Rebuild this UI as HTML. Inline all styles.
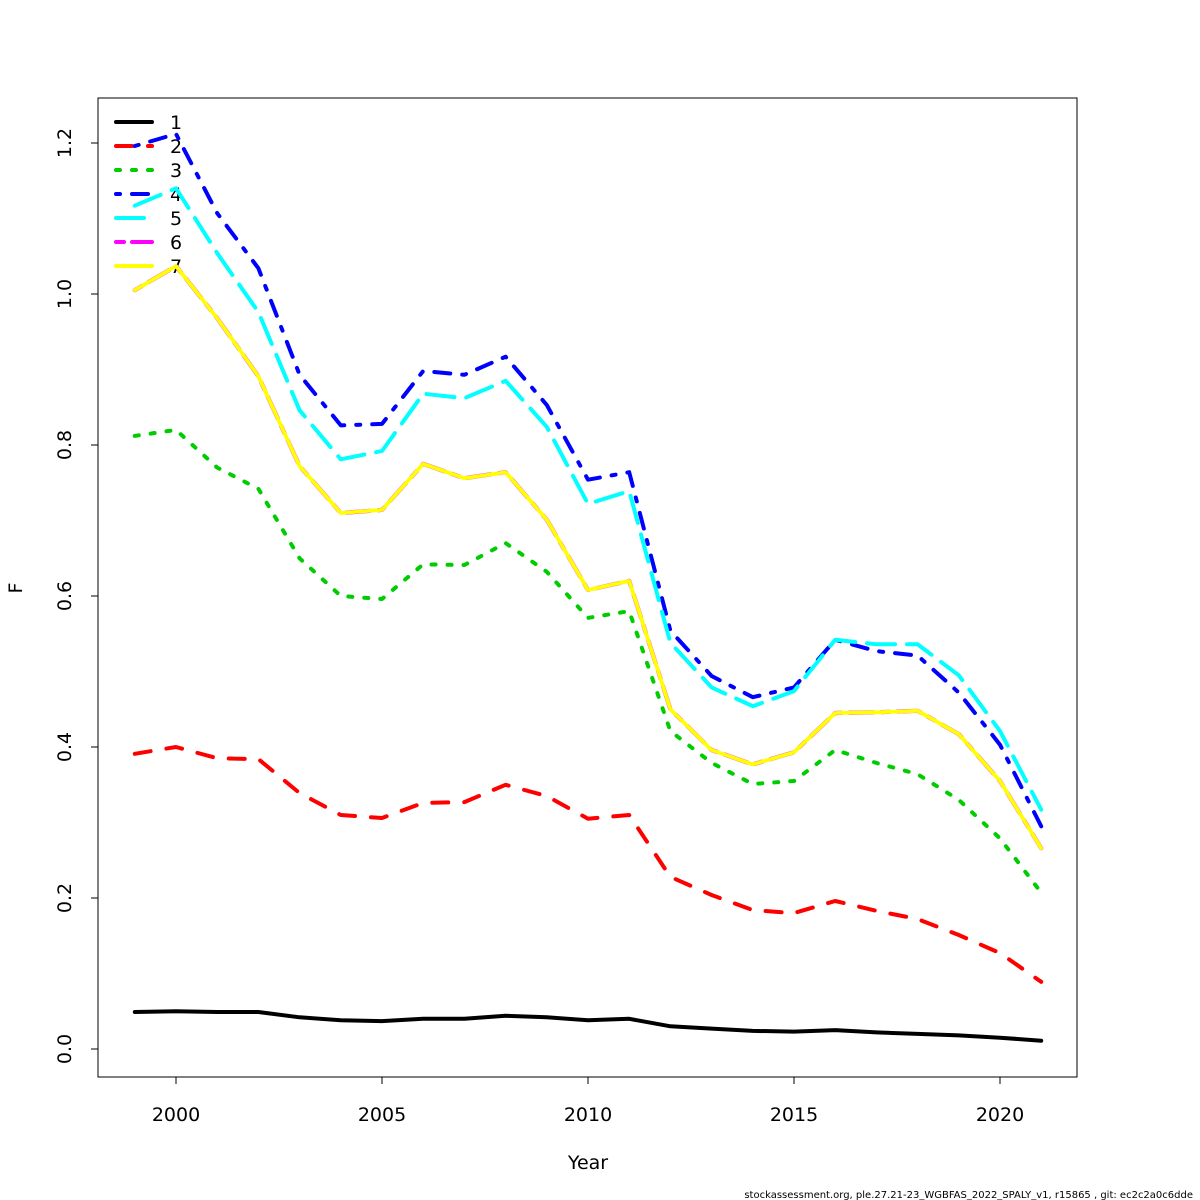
<!DOCTYPE html>
<html><head><meta charset="utf-8"><style>
html,body{margin:0;padding:0;background:#fff;}
svg{display:block;font-family:"DejaVu Sans","Liberation Sans",sans-serif;}
</style></head><body>
<svg id="chart" width="1200" height="1200" viewBox="0 0 1200 1200">
<rect x="98" y="98" width="979" height="979" fill="none" stroke="#000" stroke-width="1"/>
<g id="xaxis"></g>
<g id="yaxis"></g>
<text x="588" y="1169" font-size="19" text-anchor="middle">Year</text>
<text transform="translate(22,588) rotate(-90)" font-size="19" text-anchor="middle">F</text>
<text x="1193" y="1198" font-size="10" text-anchor="end">stockassessment.org, ple.27.21-23_WGBFAS_2022_SPALY_v1, r15865 , git: ec2c2a0c6dde</text>
<g id="legend"></g>
<g id="series"></g>
</svg>
<script>
const years=[1999,2000,2001,2002,2003,2004,2005,2006,2007,2008,2009,2010,2011,2012,2013,2014,2015,2016,2017,2018,2019,2020,2021];
const age1=[.049,.050,.049,.049,.042,.038,.037,.040,.040,.044,.042,.038,.040,.030,.027,.024,.023,.025,.022,.020,.018,.015,.011];
const age2=[.391,.400,.385,.384,.339,.310,.306,.326,.327,.350,.335,.305,.310,.228,.204,.184,.180,.196,.183,.172,.151,.127,.089];
const age3=[.812,.820,.770,.742,.650,.600,.596,.642,.641,.670,.632,.571,.580,.421,.379,.351,.355,.396,.379,.364,.330,.279,.207];
const age4=[1.196,1.212,1.107,1.034,.893,.826,.828,.898,.893,.917,.853,.754,.764,.554,.494,.466,.479,.542,.527,.521,.472,.403,.295];
const age5=[1.117,1.140,1.054,.976,.846,.781,.792,.868,.862,.885,.824,.722,.739,.538,.479,.454,.474,.542,.536,.536,.495,.421,.317];
const age6=[1.005,1.037,.968,.891,.772,.710,.714,.775,.756,.764,.701,.608,.620,.450,.396,.377,.393,.445,.446,.448,.417,.355,.266];
const age7=[1.005,1.037,.968,.891,.772,.710,.714,.775,.756,.764,.701,.608,.620,.450,.396,.377,.393,.445,.446,.448,.417,.355,.266];
const seriesLabels=["1","2","3","4","5","6","7"];
const xTicks=[2000,2005,2010,2015,2020];
const yTicks=[0,0.2,0.4,0.6,0.8,1.0,1.2];
const yTickLabels=["0.0","0.2","0.4","0.6","0.8","1.0","1.2"];

const NS="http://www.w3.org/2000/svg";
const X=y=>176+(y-2000)*41.2;
const Y=v=>1049-v*755;
const colors=["#000","#ff0000","#00cd00","#0000ff","#00ffff","#ff00ff","#ffff00"];
const dashes=["","16,16","4,12","4,12,16,12","28,12","8,8,24,8",""];
const widths=[4,4,4,4,4,4.2,3.8];
const all=[age1,age2,age3,age4,age5,age6,age7];
function mk(t,a,p){const e=document.createElementNS(NS,t);for(const k in a)e.setAttribute(k,a[k]);p.appendChild(e);return e;}
const xa=document.getElementById('xaxis'),ya=document.getElementById('yaxis');
mk('line',{x1:X(xTicks[0]),x2:X(xTicks[xTicks.length-1]),y1:1077,y2:1077,stroke:'#000'},xa);
xTicks.forEach(t=>{
  const l=mk('line',{x1:X(t),x2:X(t),y1:1077,y2:1084,stroke:'#000'},xa);
  
  
  const tx=mk('text',{x:X(t),y:1121,'font-size':19,'text-anchor':'middle'},xa);tx.textContent=t;
  
  
});
mk('line',{x1:98,x2:98,y1:Y(yTicks[0]),y2:Y(yTicks[yTicks.length-1]),stroke:'#000'},ya);
yTicks.forEach((t,i)=>{
  const l=mk('line',{x1:91,x2:98,y1:Y(t),y2:Y(t),stroke:'#000'},ya);
  
  
  const tx=mk('text',{transform:`translate(71,${Y(t)}) rotate(-90)`,'font-size':19,'text-anchor':'middle'},ya);tx.textContent=yTickLabels[i];
  
  
});
const lg=document.getElementById('legend');
seriesLabels.forEach((s,i)=>{
  const yy=122+i*24;
  const l=mk('line',{x1:116,x2:152,y1:yy,y2:yy,stroke:colors[i],'stroke-width':4,'stroke-dasharray':dashes[i],'stroke-linecap':'round'},lg);
  
  
  const t=mk('text',{x:170,y:yy+7,'font-size':19},lg);t.textContent=s;
  
  
});
const sg=document.getElementById('series');
all.forEach((d,i)=>{
  const pts=d.map((v,j)=>X(years[j]).toFixed(1)+','+Y(v).toFixed(1)).join(' ');
  const p=mk('polyline',{points:pts,fill:'none',stroke:colors[i],'stroke-width':widths[i],'stroke-dasharray':dashes[i],'stroke-linecap':'round','stroke-linejoin':'round'},sg);
  
  
});
</script>
</body></html>
